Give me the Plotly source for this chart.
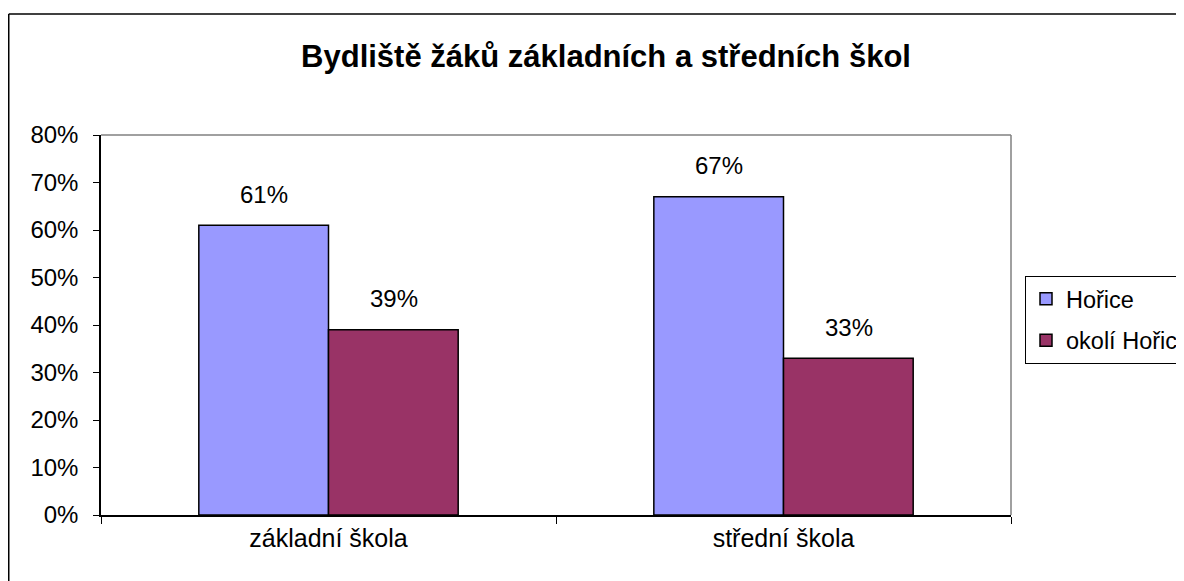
import plotly.graph_objects as go

categories = ["základní škola", "střední škola"]
series_names = ["Hořice", "okolí Hořic"]
hor_values = [61, 67]
okoli_values = [39, 33]
series_values = [hor_values, okoli_values]
colors = ["#9999FF", "#993366"]
tick_vals = [0, 10, 20, 30, 40, 50, 60, 70, 80]
tick_text = [f"{v}%" for v in tick_vals]

OFF = 8  # page body margin
W, H = 1184 - OFF, 581 - OFF
L, R, T, B = 101 - OFF, 1011 - OFF, 135 - OFF, 515 - OFF
pw, ph = R - L, B - T

fig = go.Figure()
for i, (name, vals) in enumerate(zip(series_names, series_values)):
    fig.add_trace(go.Bar(
        x=categories, y=vals, name=name, legendgroup=name,
        marker=dict(color=colors[i], line=dict(color="black", width=1.5)),
    ))

font = "Liberation Sans, Arial, sans-serif"
annotations = []
for i, vals in enumerate(series_values):
    for c, v in zip(categories, vals):
        annotations.append(dict(
            x=c, y=v, xref="x", yref="y", text=f"{v}%", showarrow=False,
            xshift=(-65 if i == 0 else 65), yshift=31, yanchor="middle",
            font=dict(family=font, size=24, color="black"),
        ))

def px(x):
    return (x - OFF - L) / pw

def py(y):
    return (B - (y - OFF)) / ph

shapes = [
    dict(type="line", xref="paper", yref="paper", x0=px(8.75), y0=py(14), x1=px(1200), y1=py(14),
         line=dict(color="black", width=1.5)),
    dict(type="line", xref="paper", yref="paper", x0=px(8.75), y0=py(14), x1=px(8.75), y1=py(600),
         line=dict(color="black", width=1.5)),
    dict(type="line", xref="paper", yref="paper", x0=0, y0=1, x1=1, y1=1,
         line=dict(color="#808080", width=1.5)),
    dict(type="line", xref="paper", yref="paper", x0=1, y0=0, x1=1, y1=1,
         line=dict(color="#808080", width=1.5)),
]

fig.update_layout(
    width=W, height=H,
    margin=dict(l=L, r=W - R, t=T, b=H - B, autoexpand=False),
    paper_bgcolor="white", plot_bgcolor="white",
    barmode="group", bargap=0.43, bargroupgap=0,
    title=dict(text="<b>Bydliště žáků základních a středních škol</b>",
               x=(606 - OFF) / W, xanchor="center", y=1 - (56 - OFF) / H, yanchor="middle",
               font=dict(family=font, size=31, color="black")),
    font=dict(family=font, size=25, color="black"),
    showlegend=True,
    legend=dict(x=px(1025), y=py(276), xanchor="left", yanchor="top",
                bordercolor="black", borderwidth=1, bgcolor="white",
                font=dict(family=font, size=23.5, color="black"),
                traceorder="grouped", tracegroupgap=8, itemwidth=30),
    xaxis=dict(showline=True, linecolor="black", linewidth=1.5, ticks="outside",
               tickson="boundaries", ticklen=7, tickcolor="black", showgrid=False,
               tickfont=dict(family=font, size=25)),
    yaxis=dict(range=[0, 80], tickvals=tick_vals, ticktext=tick_text, showline=True,
               linecolor="black", linewidth=1.5, ticks="outside", ticklen=6,
               tickcolor="black", showgrid=False, zeroline=False,
               ticklabelstandoff=10, tickfont=dict(family=font, size=24)),
    annotations=annotations,
    shapes=shapes,
)

fig.write_html("out.html")
